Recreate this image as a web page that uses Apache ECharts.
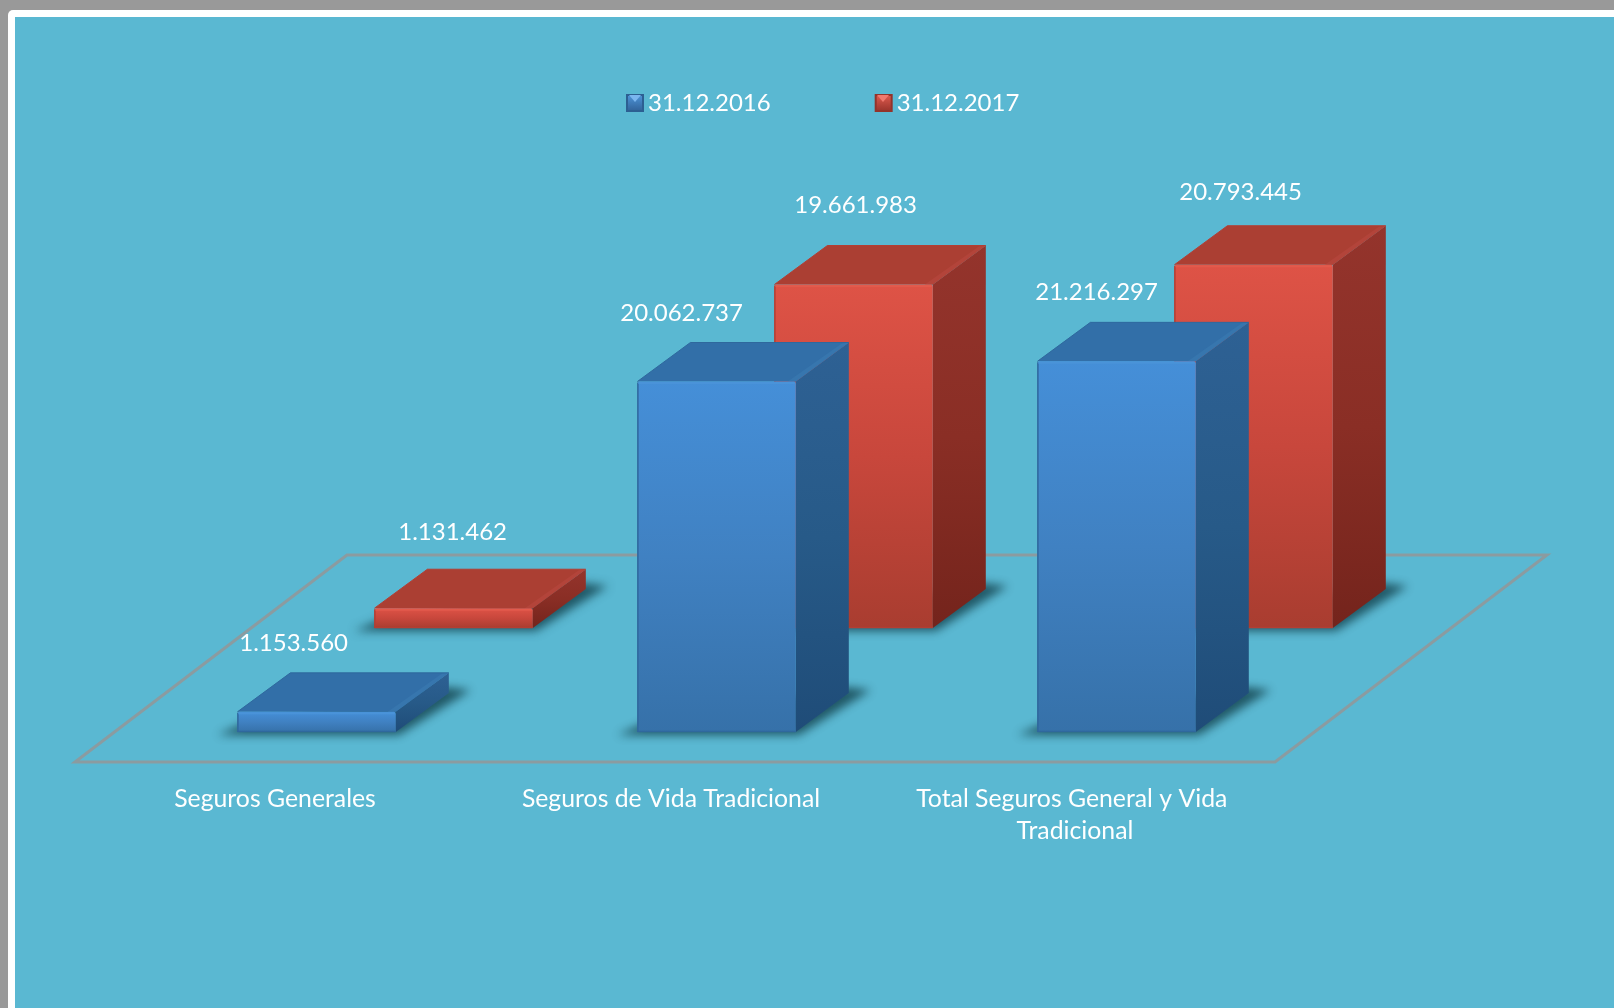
<!DOCTYPE html>
<html>
<head>
<meta charset="utf-8">
<style>
html,body{margin:0;padding:0;width:1614px;height:1008px;overflow:hidden;background:#999999}
#white{position:absolute;left:8px;top:10px;right:0;bottom:0;background:#ffffff;border-top-left-radius:5px}
#panel{position:absolute;left:15px;top:17px;right:0;bottom:0;background:#5ab8d2}
#chart{position:absolute;left:0;top:0;width:1614px;height:1008px}
</style>
<script src="https://cdn.jsdelivr.net/npm/echarts@6/dist/echarts.min.js"></script>
</head>
<body>
<div id="white"></div><div id="panel"></div><div id="chart"></div>
<script>
const categories = ['Seguros Generales', 'Seguros de Vida Tradicional', 'Total Seguros General y Vida Tradicional'];
const seriesNames = ['31.12.2016', '31.12.2017'];
const values2016 = [1153560, 20062737, 21216297];
const values2017 = [1131462, 19661983, 20793445];

// layout of the pseudo-3D scene (pixels / band fractions), not data
const FONT = 'Lato, Carlito, sans-serif';
const FONT_SIZE = 24;
const DEPTH = [53, 39];
const BAR_W = 0.396;
const OFFSCREEN = 3000;
const blueLook = {
  offset: 0.406, lift: 0, nudge: [[-23, -68.5], [-35, -68.5], [-20, -69.5]],
  front: ['#458fd8', '#4081c2', '#3671a9'], top: '#326fa8', topEdge: '#3776ae',
  side: ['#2e6194', '#275a88', '#1f4c78'], edge: '#2f689d', glow: '#4a93d9'
};
const redLook = {
  offset: 0.7485, lift: 104, nudge: [[-1, -75.5], [2, -79.5], [-13, -72.5]],
  front: ['#de5346', '#c8473c', '#a93d30'], top: '#ab3f33', topEdge: '#b3443a',
  side: ['#94342c', '#8a2e25', '#74241c'], edge: '#b33e33', glow: '#e25a4c'
};
const FLOOR = { drop: 30, back: [272, 207] };

function vGrad(stops) {
  return new echarts.graphic.LinearGradient(0, 0, 0, 1,
    stops.map((c, i) => ({ offset: i / (stops.length - 1), color: c })));
}
function fmt(v) { return String(v).replace(/\B(?=(\d{3})+$)/g, '.'); }

function renderBar(look) {
  return function (params, api) {
    const idx = params.dataIndex;
    const cat = api.value(0), val = api.value(1);
    const base = api.coord([cat, 0]), head = api.coord([cat, val]);
    const band = api.size([1, 0])[0];
    const x0 = base[0] - band / 2 + look.offset * band;
    const w = BAR_W * band, x1 = x0 + w;
    const yb = base[1] - look.lift, yt = head[1] - look.lift;
    const dx = DEPTH[0], dy = DEPTH[1];
    const poly = (points, style) => ({ type: 'polygon', shape: { points }, style });
    const line = (points, stroke, lineWidth) => ({ type: 'polyline', shape: { points }, style: { stroke, lineWidth, fill: null } });
    const shadowPts = [[x0 - 20, yb + 3], [x1 + 3, yb + 3], [x1 + dx + 22, yb - dy - 3], [x1 + dx - 4, yb - dy - 6], [x0 + 10, yb - 10]];
    const shadow = {
      type: 'polygon',
      shape: { points: shadowPts.map(p => [p[0] - OFFSCREEN, p[1]]) },
      style: { fill: '#000', shadowBlur: 10, shadowOffsetX: OFFSCREEN, shadowColor: 'rgba(22,72,84,0.85)' }
    };
    const children = [
      shadow,
      poly([[x1, yt], [x1 + dx, yt - dy], [x1 + dx, yb - dy], [x1, yb]], { fill: vGrad(look.side) }),
      poly([[x0, yt], [x0 + dx, yt - dy], [x1 + dx, yt - dy], [x1, yt]], { fill: look.top }),
      poly([[x1 - 8, yt - 0], [x1 + dx - 7, yt - dy + 1], [x1 + dx, yt - dy], [x1, yt]], { fill: look.topEdge }),
      { type: 'rect', shape: { x: x0, y: yt, width: w, height: yb - yt, r: [3, 2, 0, 0] }, style: { fill: vGrad(look.front) } },
      line([[x0 + 0.5, yb], [x0 + 0.5, yt + 1]], look.edge, 1.5),
      line([[x0, yb - 0.5], [x1, yb - 0.5]], look.edge, 1.5),
      line([[x0 + 1, yt + 1.5], [x1 - 1, yt + 1.5]], look.glow, 2),
      line([[x0, yt], [x0 + dx, yt - dy], [x1 + dx, yt - dy]], look.edge, 1),
      {
        type: 'text',
        style: {
          text: fmt(val),
          x: (x0 + x1) / 2 + look.nudge[idx][0],
          y: yt + look.nudge[idx][1],
          fill: '#ffffff',
          fontFamily: FONT,
          fontSize: FONT_SIZE,
          textAlign: 'center',
          textVerticalAlign: 'middle'
        }
      }
    ];
    return { type: 'group', children };
  };
}

function renderFloor(params, api) {
  const cs = params.coordSys;
  const y = api.coord([0, 0])[1] + FLOOR.drop;
  const l = cs.x, r = cs.x + cs.width;
  const [bx, by] = FLOOR.back;
  return {
    type: 'polygon',
    shape: { points: [[l, y], [r, y], [r + bx, y - by], [l + bx, y - by]] },
    style: { fill: 'rgba(0,0,0,0)', stroke: '#8b9ba0', lineWidth: 3, lineJoin: 'miter' }
  };
}

const chart = echarts.init(document.getElementById('chart'), null, { renderer: 'canvas' });
chart.setOption({
  animation: false,
  backgroundColor: 'transparent',
  legend: {
    data: seriesNames,
    left: 621,
    top: 86,
    itemWidth: 16,
    itemHeight: 16,
    itemGap: 104,
    icon: 'rect',
    textStyle: { color: '#ffffff', fontFamily: FONT, fontSize: FONT_SIZE },
    selectedMode: false
  },
  graphic: [
    { type: 'polygon', z: 100, silent: true, shape: { points: [[629, 95], [641, 95], [635, 102]] }, style: { fill: '#7ab6ef' } },
    { type: 'polygon', z: 100, silent: true, shape: { points: [[877, 95], [889, 95], [883, 102]] }, style: { fill: '#f0796e' } }
  ],
  grid: { left: 75, width: 1200, bottom: 276, height: 698.8 },
  xAxis: {
    type: 'category',
    data: [
      categories[0],
      { value: categories[1], textStyle: { padding: [0, 8, 0, 0] } },
      categories[2]
    ],
    axisLine: { show: false },
    axisTick: { show: false },
    axisLabel: {
      color: '#ffffff', fontFamily: FONT, fontSize: 24.8, lineHeight: 32,
      margin: 51, width: 340, overflow: 'break', interval: 0
    }
  },
  yAxis: { type: 'value', min: 0, max: 40000000, show: false },
  series: [
    { type: 'custom', name: 'floor', z: 1, silent: true, clip: false, data: [[0, 0]], renderItem: renderFloor, encode: { x: 0, y: 1 } },
    {
      type: 'custom', name: seriesNames[0], z: 4, clip: false, silent: true,
      itemStyle: { color: vGrad(['#4f97dc', '#2f5f95']), borderColor: '#2c5f92', borderWidth: 1 },
      data: values2016.map((v, i) => [i, v]), renderItem: renderBar(blueLook), encode: { x: 0, y: 1 }
    },
    {
      type: 'custom', name: seriesNames[1], z: 3, clip: false, silent: true,
      itemStyle: { color: vGrad(['#e25c50', '#96322a']), borderColor: '#93332b', borderWidth: 1 },
      data: values2017.map((v, i) => [i, v]), renderItem: renderBar(redLook), encode: { x: 0, y: 1 }
    }
  ]
});
</script>
</body>
</html>
